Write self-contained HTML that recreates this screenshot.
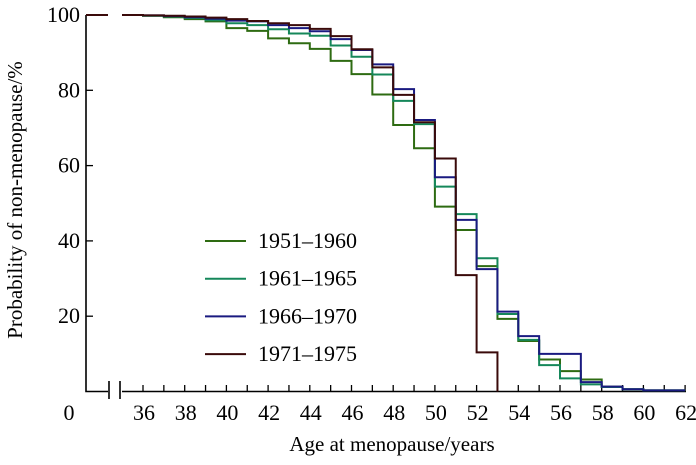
<!DOCTYPE html>
<html><head><meta charset="utf-8"><style>
body{margin:0;background:#fff}
svg{display:block;font-family:"Liberation Serif",serif}
</style></head><body>
<svg id="c" width="696" height="465">
<g id="axes"></g>
<g id="series"></g>
<g id="legend"></g>
<text x="0" y="0" transform="translate(22,200) rotate(-90)" text-anchor="middle" font-size="21">Probability of non-menopause/%</text>
<text x="392" y="451" text-anchor="middle" font-size="21">Age at menopause/years</text>
</svg>
<script>
const ages = [35,36,37,38,39,40,41,42,43,44,45,46,47,48,49,50,51,52,53,54,55,56,57,58,59,60,61,62];
const seriesNames = ["1951\u20131960","1961\u20131965","1966\u20131970","1971\u20131975"];
const colors = ["#2e6b12","#15875a","#1a1a80","#3a0a0a"];
const s1951 = [100,99.8,99.4,98.9,98.3,96.5,95.8,93.8,92.5,91,87.8,84.3,78.9,70.8,64.6,49.1,42.9,33.3,19.3,13.4,8.5,5.4,3.2,1.3,0.6,0.3,0.3];
const s1961 = [100,99.8,99.6,99.2,98.6,97.8,97.3,96.2,95.1,94.5,91.9,88.9,84.2,77.2,71,54.4,47.1,35.4,20.6,13.7,7,3.5,1.9,1.2,0.6,0.3,0.3];
const s1966 = [100,99.9,99.7,99.4,99,98.5,98.3,97.3,96.5,95.7,93.6,90.7,86.9,80.3,72.1,56.9,45.6,32.5,21.2,14.7,10,10,2.5,1.3,0.6,0.3,0.3];
const s1971 = [100,99.9,99.8,99.6,99.3,98.9,98.4,97.8,97.3,96.3,94.4,90.9,86.1,78.8,71.5,61.9,30.9,10.4,0];
const yTicks = [20,40,60,80,100];
const xTicks = [36,38,40,42,44,46,48,50,52,54,56,58,60,62];
const allSeries=[s1951,s1961,s1966,s1971];
const NS="http://www.w3.org/2000/svg";
const X=a=>143+(a-36)*20.85;
const Y=v=>391.5-v*3.765;
function mk(t,at,p){const e=document.createElementNS(NS,t);for(const k in at)e.setAttribute(k,at[k]);p.appendChild(e);return e;}
const ax=document.getElementById('axes');
let yl=mk('path',{d:`M86,${Y(100)} V391.5 H108 M122,391.5 H686`,stroke:'#000','stroke-width':1.6,fill:'none'},ax);


let br=mk('path',{d:'M109,381V399 M120,381V399',stroke:'#000','stroke-width':1.6},ax);


for(let a=36;a<=62;a++){mk('line',{x1:X(a),x2:X(a),y1:391.5,y2:385,stroke:'#000','stroke-width':1.3},ax);}
yTicks.forEach(v=>{
 if(v<100)mk('line',{x1:86,x2:93,y1:Y(v),y2:Y(v),stroke:'#000','stroke-width':1.3},ax);
 const t=mk('text',{x:80,y:Y(v)+7,'text-anchor':'end','font-size':22},ax);t.textContent=v;
 
 
});
let z=mk('text',{x:69,y:420,'text-anchor':'middle','font-size':22},ax);z.textContent='0';


xTicks.forEach(a=>{const t=mk('text',{x:X(a)+1,y:420,'text-anchor':'middle','font-size':22},ax);t.textContent=a;
 
 
});
const ser=document.getElementById('series');
allSeries.forEach((s,i)=>{
 let d=`M86,${Y(s[0])} H108 M122,${Y(s[0])} H${X(36)}`;
 for(let k=1;k<s.length;k++){d+=` V${Y(s[k])}`; if(s[k]>0) d+=` H${X(ages[k+1])}`;}
 const p=mk('path',{d:d,stroke:colors[i],'stroke-width':2,fill:'none'},ser);
 
 
});
const lg=document.getElementById('legend');
seriesNames.forEach((n,i)=>{
 const y=247+i*37.7;
 mk('line',{x1:205,x2:246,y1:y-6,y2:y-6,stroke:colors[i],'stroke-width':2},lg);
 const t=mk('text',{x:258,y:y+1,'font-size':22},lg);t.textContent=n;
 
 
});
</script>
</body></html>
